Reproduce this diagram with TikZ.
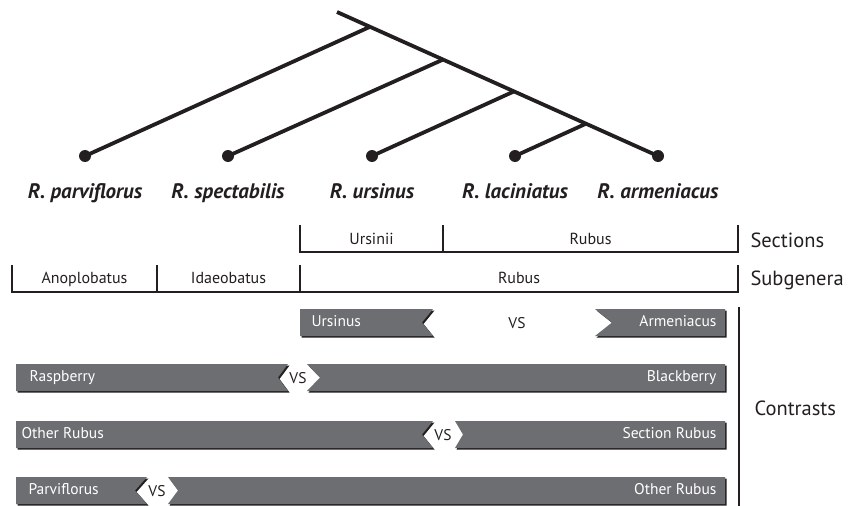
\documentclass[tikz,border=0pt]{standalone}
\usepackage{fontspec}
\setmainfont{PT Sans}
\definecolor{barfill}{HTML}{6D6E71}
\definecolor{ink}{HTML}{231F20}
\begin{document}
\begin{tikzpicture}[x=1pt,y=-1pt,
  branch/.style={line width=3.8pt, draw=ink},
  tipdot/.style={circle, fill=ink, inner sep=0pt, minimum size=12pt},
  taxon/.style={font=\bfseries\itshape\fontsize{21}{23}\selectfont, text=ink, anchor=base},
  bracket/.style={line width=1.3pt, draw=ink},
  grp/.style={font=\fontsize{16}{18}\selectfont, text=ink, anchor=base},
  rowlabel/.style={font=\fontsize{20.5}{23}\selectfont, text=ink, anchor=base west},
  bar/.style={fill=barfill},
  barshadow/.style={fill=ink, shift={(1.5,1.5)}},
  bartext/.style={font=\fontsize{15.5}{17}\selectfont, text=white},
  vs/.style={font=\fontsize{15.5}{17}\selectfont, text=ink}
]
\useasboundingbox (0,0) rectangle (852,506);

% ---------- tree ----------
\coordinate (root) at (337,12);
\coordinate (j1) at (370,26.8);
\coordinate (j2) at (443,59.6);
\coordinate (j3) at (514,91.4);
\coordinate (j4) at (586,123.7);
\node[tipdot] (t1) at (85,156) {};
\node[tipdot] (t2) at (228,156) {};
\node[tipdot] (t3) at (372,156) {};
\node[tipdot] (t4) at (515,156) {};
\node[tipdot] (t5) at (658,156) {};
\draw[branch] (root) -- (t5.center);
\draw[branch] (t1.center) -- (j1);
\draw[branch] (t2.center) -- (j2);
\draw[branch] (t3.center) -- (j3);
\draw[branch] (t4.center) -- (j4);

\node[taxon] (l1) at (85,198) {R. parviflorus};
\node[taxon] (l2) at (228,198) {R. spectabilis};
\node[taxon] (l3) at (372,198) {R. ursinus};
\node[taxon] (l4) at (515,198) {R. laciniatus};
\node[taxon] (l5) at (658,198) {R. armeniacus};

% ---------- sections ----------
\draw[bracket] (300,225) -- (300,252) -- (738,252) -- (738,225);
\draw[bracket] (443,225) -- (443,252);
\node[grp] (s1) at (371.5,244.5) {Ursinii};
\node[grp] (s2) at (590.5,244.5) {Rubus};
\node[rowlabel] (sec) at (747,247) {Sections};

% ---------- subgenera ----------
\draw[bracket] (12,265) -- (12,292) -- (738,292) -- (738,265);
\draw[bracket] (157,265) -- (157,292);
\draw[bracket] (300,265) -- (300,292);
\node[grp] (g1) at (84.5,283) {Anoplobatus};
\node[grp] (g2) at (228.5,283) {Idaeobatus};
\node[grp] (g3) at (519,283) {Rubus};
\node[rowlabel] (sub) at (747,285) {Subgenera};

% ---------- contrasts ----------
\draw[bracket] (739,307) -- (739,506);
\node[rowlabel] (con) at (751,415) {Contrasts};

% row 1
\foreach \s in {barshadow,bar}{
  \fill[\s] (300,309) -- (433,309) -- (422,322.5) -- (433,336) -- (300,336) -- cycle;
  \fill[\s] (595,309) -- (725,309) -- (725,336) -- (595,336) -- (612,322.5) -- cycle;
}
\node[bartext, anchor=mid west] (c1a) at (308,324) {Ursinus};
\node[bartext, anchor=mid east] (c1b) at (720,324) {Armeniacus};
\node[vs] (c1v) at (517,323) {VS};

% row 2
\foreach \s in {barshadow,bar}{
  \fill[\s] (16,364) -- (288,364) -- (278,377.5) -- (288,391) -- (16,391) -- cycle;
  \fill[\s] (307,364) -- (725,364) -- (725,391) -- (307,391) -- (320,377.5) -- cycle;
}
\node[bartext, anchor=mid west] (c2a) at (26,379) {Raspberry};
\node[bartext, anchor=mid east] (c2b) at (720,379) {Blackberry};
\node[vs] (c2v) at (298,378) {VS};

% row 3
\foreach \s in {barshadow,bar}{
  \fill[\s] (16,421) -- (433,421) -- (422,434.5) -- (433,448) -- (16,448) -- cycle;
  \fill[\s] (455,421) -- (725,421) -- (725,448) -- (455,448) -- (463,434.5) -- cycle;
}
\node[bartext, anchor=mid west] (c3a) at (18,436) {Other Rubus};
\node[bartext, anchor=mid east] (c3b) at (720,436) {Section Rubus};
\node[vs] (c3v) at (443,435) {VS};

% row 4
\foreach \s in {barshadow,bar}{
  \fill[\s] (16,477) -- (147,477) -- (135,490.5) -- (147,504) -- (16,504) -- cycle;
  \fill[\s] (168,477) -- (725,477) -- (725,504) -- (168,504) -- (178,490.5) -- cycle;
}
\node[bartext, anchor=mid west] (c4a) at (25,492) {Parviflorus};
\node[bartext, anchor=mid east] (c4b) at (720,492) {Other Rubus};
\node[vs] (c4v) at (157,491) {VS};
\end{tikzpicture}
\end{document}
